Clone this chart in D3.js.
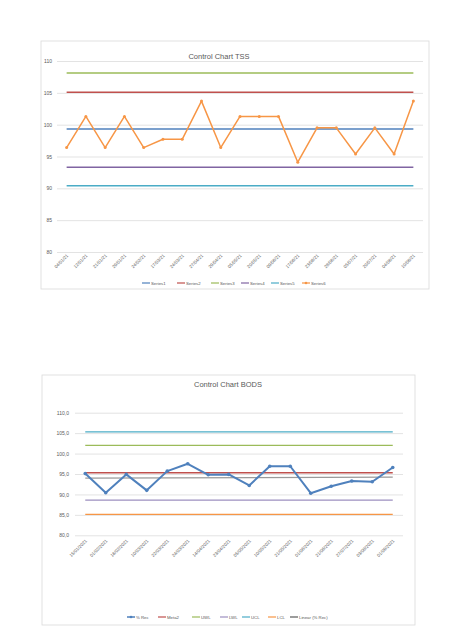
<!DOCTYPE html>
<html>
<head>
<meta charset="utf-8">
<script src="https://cdn.jsdelivr.net/npm/d3@7"></script>
<style>
  body { margin: 0; background: #fff; }
  text { font-family: "Liberation Sans", Arial, sans-serif; fill: #595959; }
</style>
</head>
<body>
<div id="viz"></div>
<script>
// ---- TSS chart data
var tssDates = ["04/01/21","12/01/21","21/01/21","29/01/21","24/02/21","17/03/21","24/03/21","27/04/21","29/04/21","05/05/21",
                "20/05/21","09/06/21","17/06/21","23/06/21","28/06/21","05/07/21","20/07/21","04/08/21","10/08/21"];
var tssValues = [96.4,101.3,96.4,101.3,96.4,97.7,97.7,103.7,96.4,101.3,101.3,101.3,94.1,99.5,99.5,95.4,99.5,95.4,103.7];
var tssLimitNames = ["Series1","Series2","Series3","Series4","Series5"];
var tssLimitValues = [99.3, 105.1, 108.1, 93.3, 90.4];
var tssTicks = [80,85,90,95,100,105,110];

// ---- BODS chart data
var bodsDates = ["15/01/2021","01/02/2021","16/02/2021","10/03/2021","22/03/2021","24/03/2021","14/04/2021","23/04/2021",
                 "05/05/2021","10/05/2021","21/05/2021","01/06/2021","21/06/2021","27/07/2021","03/08/2021","01/09/2021"];
var bodsRec = [95.1,90.4,94.9,91.0,95.7,97.5,94.8,94.9,92.2,96.9,96.9,90.3,92.0,93.3,93.1,96.6];
var bodsLimitNames = ["Meta2","UWL","LWL","UCL","LCL"];
var bodsLimitValues = [95.3, 102.0, 88.6, 105.3, 85.1];
var bodsTicks = [80,85,90,95,100,105,110];

var svg = d3.select("#viz").append("svg")
  .attr("width", 474).attr("height", 632);

var fmtComma = function(v) { return d3.format(".1f")(v).replace(".", ","); };

function drawChart(cfg) {
  // frame
  svg.append("rect")
    .attr("x", cfg.frame[0]).attr("y", cfg.frame[1])
    .attr("width", cfg.frame[2]).attr("height", cfg.frame[3])
    .attr("fill", "#fff").attr("stroke", "#d9d9d9").attr("stroke-width", 0.8);

  var x = d3.scaleBand().domain(cfg.dates).range([cfg.plot.left, cfg.plot.right]);
  var cx = function(d) { return x(d) + x.bandwidth() / 2; };
  var y = d3.scaleLinear().domain([80, 110]).range([cfg.plot.bottom, cfg.plot.top]);

  // gridlines + y labels
  var yAxis = svg.append("g")
    .attr("transform", "translate(" + cfg.plot.left + ",0)")
    .call(d3.axisLeft(y).tickValues(cfg.ticks).tickSize(-(cfg.plot.right - cfg.plot.left))
      .tickPadding(cfg.yPad).tickFormat(cfg.yFormat));
  yAxis.select(".domain").remove();
  yAxis.selectAll("line").attr("stroke", "#d9d9d9").attr("stroke-width", 0.75);
  yAxis.selectAll("text").attr("font-size", 5).attr("fill", "#595959")
    .style("font-family", "Liberation Sans, Arial, sans-serif");

  // x labels
  var xAxis = svg.append("g")
    .attr("transform", "translate(0," + cfg.plot.bottom + ")")
    .call(d3.axisBottom(x).tickSize(0).tickPadding(0));
  xAxis.select(".domain").remove();
  xAxis.selectAll("text")
    .attr("font-size", 4.5).attr("fill", "#595959")
    .style("font-family", "Liberation Sans, Arial, sans-serif")
    .attr("text-anchor", "end")
    .attr("dy", 0)
    .attr("transform", function() { return "translate(2," + cfg.xDrop + ") rotate(-45)"; });

  var first = cfg.dates[0], last = cfg.dates[cfg.dates.length - 1];

  // constant limit series
  cfg.limitNames.forEach(function(name, i) {
    svg.append("line")
      .attr("x1", cx(first)).attr("x2", cx(last))
      .attr("y1", y(cfg.limitValues[i])).attr("y2", y(cfg.limitValues[i]))
      .attr("stroke", cfg.colors[name]).attr("stroke-width", cfg.limitWidth);
  });

  // trendline if needed
  if (cfg.trend) {
    var n = cfg.values.length;
    var xs = d3.range(1, n + 1);
    var mx = d3.mean(xs), my = d3.mean(cfg.values);
    var slope = d3.sum(xs, function(v, i) { return (v - mx) * (cfg.values[i] - my); }) /
                d3.sum(xs, function(v) { return (v - mx) * (v - mx); });
    var icpt = my - slope * mx;
    svg.append("line")
      .attr("x1", cx(first)).attr("x2", cx(last))
      .attr("y1", y(icpt + slope * 1)).attr("y2", y(icpt + slope * n))
      .attr("stroke", "#9a9a9a").attr("stroke-width", 1.2);
  }

  // main series
  var line = d3.line()
    .x(function(d, i) { return cx(cfg.dates[i]); })
    .y(function(d) { return y(d); });
  svg.append("path")
    .datum(cfg.values)
    .attr("fill", "none")
    .attr("stroke", cfg.mainColor)
    .attr("stroke-width", cfg.mainWidth)
    .attr("stroke-linejoin", "round")
    .attr("d", line);
  svg.selectAll(null)
    .data(cfg.values)
    .enter().append("circle")
      .attr("cx", function(d, i) { return cx(cfg.dates[i]); })
      .attr("cy", function(d) { return y(d); })
      .attr("r", cfg.markerR)
      .attr("fill", cfg.mainColor);

  // title
  svg.append("text")
    .attr("x", cfg.titlePos[0]).attr("y", cfg.titlePos[1])
    .attr("text-anchor", "middle")
    .attr("font-size", 7.5)
    .text(cfg.title);

  // legend
  var leg = svg.append("g").attr("transform", "translate(0," + cfg.legendY + ")");
  cfg.legend.forEach(function(item, i) {
    var lx = cfg.legendX[i];
    leg.append("line")
      .attr("x1", lx).attr("x2", lx + 8).attr("y1", 0).attr("y2", 0)
      .attr("stroke", item.color).attr("stroke-width", item.w || 1.2);
    if (item.marker) {
      leg.append("circle").attr("cx", lx + 4).attr("cy", 0).attr("r", 1.3).attr("fill", item.color);
    }
    leg.append("text")
      .attr("x", lx + 9).attr("y", 1.5)
      .attr("font-size", 4.3)
      .text(item.name);
  });
}

var xl = {
  blue: "#4F81BD", red: "#C0504D", green: "#9BBB59", purple: "#8064A2", aqua: "#4BACC6", orange: "#F79646"
};

drawChart({
  frame: [41, 41, 388, 248],
  plot: {left: 57, right: 423, top: 61, bottom: 252},
  dates: tssDates, values: tssValues, ticks: tssTicks,
  yFormat: d3.format("d"), yPad: 5, xDrop: 4,
  limitNames: tssLimitNames, limitValues: tssLimitValues,
  colors: {Series1: xl.blue, Series2: xl.red, Series3: xl.green, Series4: xl.purple, Series5: xl.aqua},
  limitWidth: 1.5,
  mainColor: xl.orange, mainWidth: 1.5, markerR: 1.5,
  title: "Control Chart TSS", titlePos: [219, 59],
  legendY: 283,
  legendX: [142, 177, 211, 241, 271, 302],
  legend: [
    {name: "Series1", color: xl.blue},
    {name: "Series2", color: xl.red},
    {name: "Series3", color: xl.green},
    {name: "Series4", color: xl.purple},
    {name: "Series5", color: xl.aqua},
    {name: "Series6", color: xl.orange, marker: true}
  ]
});

drawChart({
  frame: [42, 375, 373, 250],
  plot: {left: 75, right: 403, top: 412.7, bottom: 535.3},
  dates: bodsDates, values: bodsRec, ticks: bodsTicks,
  yFormat: fmtComma, yPad: 6, xDrop: 6,
  limitNames: bodsLimitNames, limitValues: bodsLimitValues,
  colors: {Meta2: xl.red, UWL: xl.green, LWL: "#9C8FBF", UCL: xl.aqua, LCL: xl.orange},
  limitWidth: 1.3,
  trend: true,
  mainColor: xl.blue, mainWidth: 2, markerR: 1.8,
  title: "Control Chart BODS", titlePos: [228, 387],
  legendY: 617,
  legendX: [127, 158, 192, 220, 242, 268, 290],
  legend: [
    {name: "% Rec", color: xl.blue, marker: true, w: 1.5},
    {name: "Meta2", color: xl.red},
    {name: "UWL", color: xl.green},
    {name: "LWL", color: "#9C8FBF"},
    {name: "UCL", color: xl.aqua},
    {name: "LCL", color: xl.orange},
    {name: "Linear (% Rec)", color: "#595959"}
  ]
});
</script>
</body>
</html>
